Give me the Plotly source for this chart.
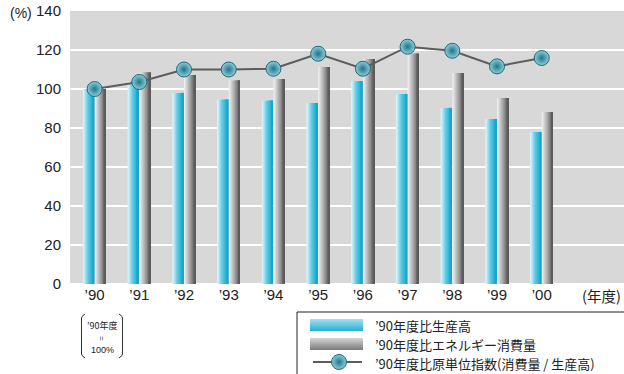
import plotly.graph_objects as go

# ---- data -------------------------------------------------------------
years = ["’90", "’91", "’92", "’93", "’94", "’95", "’96", "’97", "’98", "’99", "’00"]
production = [100, 104.1, 98, 94.5, 94, 92.8, 104.1, 97.4, 90.3, 84.6, 77.9]
energy = [100, 108.4, 107.2, 104.3, 105.1, 111.3, 115.4, 118.1, 108.2, 95.4, 88.2]
intensity = [100, 103.6, 110, 110, 110.4, 118.1, 110.4, 121.7, 119.6, 111.6, 115.9]

legend_labels = [
    "’90年度比生産高",
    "’90年度比エネルギー消費量",
    "’90年度比原単位指数(消費量 / 生産高)",
]

W, H = 624, 374
L, R, T, B = 70, 624, 11, 284   # plot area in pixels


# paper coordinates span the whole figure (zero margins)
def px(x):
    return x / W


def py(y):
    return 1 - y / H


def hexrgb(h):
    h = h.lstrip("#")
    return tuple(int(h[i:i + 2], 16) for i in (0, 2, 4))


def blend(stops, t):
    for (t0, c0), (t1, c1) in zip(stops, stops[1:]):
        if t0 <= t <= t1:
            f = 0 if t1 == t0 else (t - t0) / (t1 - t0)
            a, b = hexrgb(c0), hexrgb(c1)
            return "rgb(%d,%d,%d)" % tuple(round(a[i] + (b[i] - a[i]) * f) for i in range(3))
    return stops[-1][1]


cyan_stops = [(0, "#e8f7fb"), (0.45, "#62cbe4"), (1, "#0ea3c9")]
gray_stops = [(0, "#f4f4f4"), (0.5, "#a9a9a9"), (1, "#545454")]

idx = list(range(len(years)))
fig = go.Figure()

# gradient bars: each bar is built from overlapping strips that all end at the right edge
N = 12
bw = 0.25
for values, start, stops in ((production, -0.262, cyan_stops), (energy, 0.0, gray_stops)):
    for k in range(N):
        fig.add_trace(go.Bar(
            x=idx, y=values,
            offset=start + k * bw / N, width=bw * (N - k) / N,
            marker=dict(color=blend(stops, (k + 0.5) / N), line=dict(width=0)),
            showlegend=False, hoverinfo="skip",
        ))

sphere = dict(size=15, color="#93cbd7",
              gradient=dict(type="radial", color="#1b778b"),
              line=dict(color="#176c7e", width=1))

# intensity index line with spherical markers
fig.add_trace(go.Scatter(
    x=idx, y=intensity, mode="lines+markers",
    line=dict(color="#5c5c5c", width=2), marker=sphere,
    showlegend=False, hoverinfo="skip", cliponaxis=False,
))

# legend line sample with its marker, on a hidden pixel-space axis pair
fig.add_trace(go.Scatter(
    x=[313, 362], y=[362, 362], xaxis="x2", yaxis="y2", mode="lines",
    line=dict(color="#5c5c5c", width=2),
    showlegend=False, hoverinfo="skip", cliponaxis=False,
))
fig.add_trace(go.Scatter(
    x=[339], y=[362], xaxis="x2", yaxis="y2", mode="markers",
    marker=sphere, showlegend=False, hoverinfo="skip", cliponaxis=False,
))

shapes = []
# plot background
shapes.append(dict(type="rect", xref="paper", yref="paper",
                   x0=px(L), x1=px(R), y0=py(B), y1=py(T),
                   line=dict(width=0), fillcolor="#d8d8d8", layer="below"))
# legend box
shapes.append(dict(type="rect", xref="paper", yref="paper",
                   x0=px(297), x1=px(640), y0=py(312), y1=py(390),
                   line=dict(color="#222", width=1), fillcolor="rgba(0,0,0,0)", layer="above"))
# legend swatches with a vertical gradient
SW = 12
for y0, stops in ((319, [(0, "#a9e0ef"), (1, "#22b0d3")]),
                  (338, [(0, "#d6d6d6"), (1, "#7a7a7a")])):
    for k in range(SW):
        shapes.append(dict(type="rect", xref="paper", yref="paper",
                           x0=px(310), x1=px(363),
                           y0=py(y0 + k), y1=py(y0 + k + 1.05),
                           line=dict(width=0), fillcolor=blend(stops, (k + 0.5) / SW), layer="above"))


def path(points):
    return "M " + " L ".join("%f,%f" % (px(a), py(b)) for a, b in points)


# brackets around the base-year note
shapes.append(dict(type="path", xref="paper", yref="paper",
                   path=path([(85, 314), (82, 316.5), (81.5, 318), (81.5, 354), (82, 355.5), (85, 358)]),
                   line=dict(color="#333", width=1)))
shapes.append(dict(type="path", xref="paper", yref="paper",
                   path=path([(119, 314), (122, 316.5), (122.5, 318), (122.5, 354), (122, 355.5), (119, 358)]),
                   line=dict(color="#333", width=1)))

annotations = [
    dict(text="(%)", x=px(8), y=py(13), xref="paper", yref="paper",
         xanchor="left", yanchor="middle", showarrow=False,
         font=dict(size=14, color="#222", family="Liberation Sans, Arial")),
    dict(text="(年度)", x=px(601), y=py(295), xref="paper", yref="paper",
         xanchor="center", yanchor="middle", showarrow=False,
         font=dict(size=14.5, color="#222", family="Noto Sans CJK JP")),
    dict(text="’90年度", x=px(102), y=py(325), xref="paper", yref="paper",
         xanchor="center", yanchor="middle", showarrow=False,
         font=dict(size=9, color="#222", family="Noto Sans CJK JP")),
    dict(text="=", x=px(102), y=py(338), xref="paper", yref="paper",
         xanchor="center", yanchor="middle", showarrow=False, textangle=90,
         font=dict(size=8, color="#222", family="Liberation Sans, Arial")),
    dict(text="100%", x=px(102), y=py(350), xref="paper", yref="paper",
         xanchor="center", yanchor="middle", showarrow=False,
         font=dict(size=9, color="#222", family="Liberation Sans, Arial")),
]
for label, ypix in zip(legend_labels, (325, 344, 363)):
    annotations.append(dict(text=label, x=px(373), y=py(ypix), xref="paper", yref="paper",
                            xanchor="left", yanchor="middle", showarrow=False,
                            font=dict(size=13, color="#222", family="Noto Sans CJK JP")))

fig.update_layout(
    width=W, height=H,
    margin=dict(l=0, r=0, t=0, b=0, pad=0, autoexpand=False),
    paper_bgcolor="white", plot_bgcolor="rgba(0,0,0,0)",
    barmode="overlay", showlegend=False,
    font=dict(family="Liberation Sans, Arial", size=15, color="#222"),
    xaxis=dict(domain=[px(L), px(R)], anchor="y", automargin=False,
               range=[-0.55, 11.84], tickvals=idx, ticktext=years,
               showgrid=False, zeroline=False, showline=False,
               ticks="", tickfont=dict(size=15, color="#222")),
    yaxis=dict(domain=[py(B), py(T)], anchor="x", automargin=False,
               range=[0, 140], dtick=20, showgrid=True, gridcolor="white", gridwidth=2,
               zeroline=True, zerolinecolor="white", zerolinewidth=2, showline=False,
               ticks="outside", ticklen=5, tickcolor="rgba(0,0,0,0)",
               tickfont=dict(size=15, color="#222")),
    xaxis2=dict(domain=[px(305), px(370)], anchor="y2", range=[305, 370], automargin=False,
                visible=False, fixedrange=True),
    yaxis2=dict(domain=[py(372), py(352)], anchor="x2", range=[372, 352], automargin=False,
                visible=False, fixedrange=True),
    shapes=shapes, annotations=annotations,
)

fig.write_html("out.html")
